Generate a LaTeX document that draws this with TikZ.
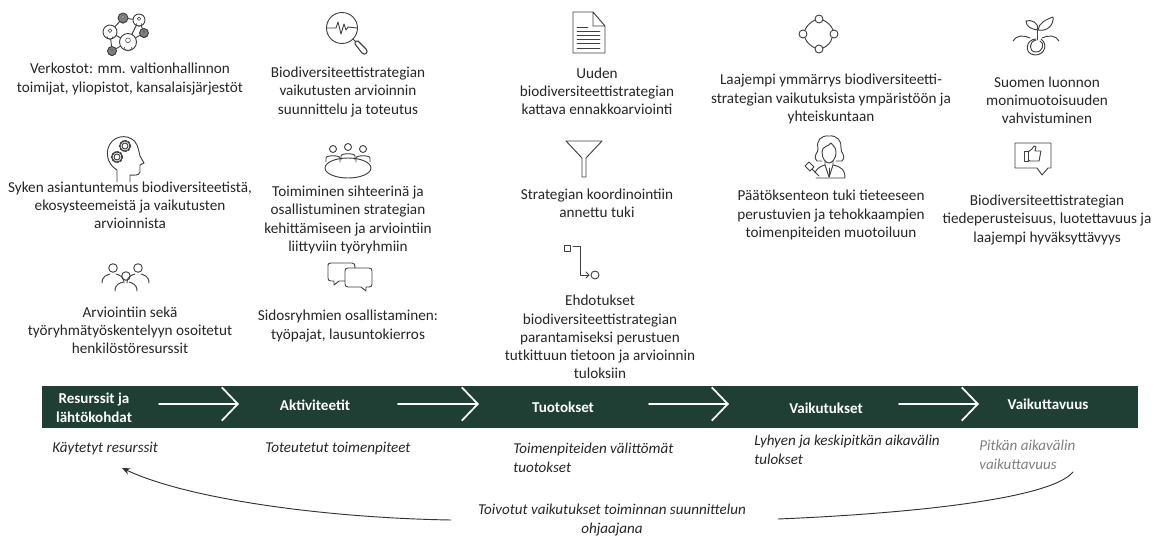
\documentclass[tikz,border=0pt]{standalone}
\usepackage{fontspec}
\setmainfont{Carlito}
\usetikzlibrary{arrows.meta}
\definecolor{bandgreen}{HTML}{1F3F35}
\definecolor{icongray}{HTML}{404040}
\definecolor{txtgray}{HTML}{262626}
\tikzset{
	txt/.style={align=center,inner sep=0pt,text=txtgray,font=\fontsize{11.4}{13.6}\selectfont},
	head/.style={align=center,inner sep=0pt,text=white,font=\fontsize{11.3}{14.5}\selectfont\bfseries},
	note/.style={align=left,inner sep=0pt,anchor=west,text=txtgray,font=\fontsize{11.3}{14.2}\selectfont\itshape},
	icon/.style={draw=icongray,line width=0.7pt,line join=round,line cap=round},
	bigarrow/.style={draw=white,line width=1.3pt,-{Straight Barb[length=12pt,width=25pt,line width=1.3pt]}},
	backline/.style={draw=black!80,line width=0.7pt}
}
\begin{document}
\begin{tikzpicture}[x=0.75pt,y=-0.75pt,line join=round,line cap=round]
	\useasboundingbox (0,0) rectangle (1156,536);
	%ikonit: verkosto
	\begin{scope}[icon]
		\draw (123,18)--(110,32) (123,18)--(139,20) (139,20)--(128,42) (110,32)--(128,42) (128,42)--(144,33) (139,20)--(144,33) (110,32)--(112,51) (128,42)--(112,51);
		\foreach \x/\y/\r/\c in {123/18/5/gray,139/20/6/white,110/32/7/white,128/42/8.5/white,144/33/4.5/gray,112/51/4.5/gray}{
			\draw[fill=\c] (\x,\y) circle (\r);
			\draw[fill=white,line width=0.4pt] (\x,\y-0.2*\r) circle (0.28*\r);
			\draw[line width=0.4pt] (\x-0.45*\r,\y+0.6*\r) arc (180:0:0.45*\r);
		}
		%suurennuslasi
		\draw (342,28) circle (15.5);
		\draw (327,28)--(336,28)--(338,22)--(341,34)--(344,24)--(346,30)--(348,27)--(357,28);
		\draw (353,39)--(356,42);
		\draw[line width=0.8pt] (355,44) -- (362,53) .. controls (365,56) and (369,52) .. (366,49) -- (358,41) .. controls (356,40) and (354,42) .. (355,44);
		%dokumentti
		\draw (573,12)--(593,12)--(605,26)--(605,53)--(573,53)--cycle (593,12)--(593,26)--(605,26);
		\foreach \y in {31,35,39,43,48}{\draw (577,\y)--(600,\y);}
		\draw (577,27)--(588,27);
		%ympyrat
		\draw (819,19) circle (4) (803,34) circle (4) (834,34) circle (4) (819,49) circle (4);
		\draw (815,20) .. controls (811,22) and (807,25) .. (805,30) (823,20) .. controls (827,22) and (831,25) .. (833,30);
		\draw (805,38) .. controls (807,43) and (811,46) .. (815,48) (832,38) .. controls (831,43) and (827,46) .. (823,48);
		%verso
		\draw (1037,30) .. controls (1032,29) and (1026,27) .. (1026,21) .. controls (1031,19) and (1040,23) .. (1037,30);
		\draw (1038,30) .. controls (1039,23) and (1045,20) .. (1053,17) .. controls (1054,24) and (1048,32) .. (1038,30);
		\draw (1037,30)--(1037,40);
		\draw (1013,41) .. controls (1016,35) and (1024,35) .. (1030,38) (1059,41) .. controls (1056,35) and (1048,35) .. (1042,38);
		\draw (1036,39) .. controls (1026,39) and (1023,54) .. (1035,55) .. controls (1045,55) and (1048,44) .. (1041,39);
		\draw (1036,40) .. controls (1029,41) and (1028,52) .. (1036,52) .. controls (1043,52) and (1045,43) .. (1040,41);
		%paa
		\draw (117,182)--(117,170) .. controls (107,164) and (105,152) .. (110,144) .. controls (116,134) and (132,134) .. (137,145) .. controls (139,150) and (139,153) .. (140,156) -- (144,163) -- (140,165) -- (140,172) .. controls (139,176) and (134,175) .. (130,175) -- (130,182);
		\draw (125,146) circle (3) (117,157) circle (3);
		\draw[densely dotted,line width=1.3pt] (125,146) circle (5.3) (117,157) circle (5.3);
		%poyta
		\draw (348,168) ellipse (23 and 10);
		\foreach \x/\y in {333/149,348/147,363/149}{
			\draw (\x,\y) circle (3.5);
			\draw (\x-7,\y+13)--(\x-7,\y+9) .. controls (\x-7,\y+6) and (\x+7,\y+6) .. (\x+7,\y+9)--(\x+7,\y+13);
		}
		%suppilo
		\draw (566,141)--(602,141)--(586,158)--(586,177)--(582,177)--(582,158)--cycle;
		%tuomari
		\draw (829,136) .. controls (821,135) and (816,141) .. (818,148) .. controls (819,153) and (812,155) .. (817,161) -- (822,161);
		\draw (829,136) .. controls (837,135) and (842,141) .. (841,148) .. controls (840,153) and (847,155) .. (842,161) -- (836,161);
		\draw (822,152) .. controls (822,146) and (828,147) .. (831,143) .. controls (833,146) and (836,147) .. (836,152) .. controls (836,160) and (831,163) .. (829,163) .. controls (826,163) and (822,159) .. (822,152);
		\draw (825,161)--(825,165)--(829,177)--(833,165)--(833,161);
		\draw (829,168)--(829,177);
		\draw (825,165) .. controls (818,167) and (816,170) .. (815,173) (833,165) .. controls (842,167) and (845,170) .. (845,178)--(816,178);
		\draw (805,166)--(809,162)--(814,167)--(810,171)--cycle (812,169)--(819,176);
		%peukku
		\draw (1015,143)--(1051,143)--(1051,168)--(1048,168)--(1042,175)--(1037,168)--(1015,168)--cycle;
		\draw (1024,151)--(1028,151)--(1028,161)--(1024,161)--cycle;
		\draw (1028,152)--(1032,149)--(1034,146)--(1036,147)--(1035,151)--(1041,151)--(1039,161)--(1030,161)--(1028,160);
		%ihmiset
		\foreach \x/\y in {113/268,138/268,126/276}{
			\draw (\x,\y) circle (4.3);
			\draw (\x-11,\y+15) .. controls (\x-11,\y+8) and (\x-6,\y+7) .. (\x-3,\y+6) (\x+11,\y+15) .. controls (\x+11,\y+8) and (\x+6,\y+7) .. (\x+3,\y+6);
		}
		%puhekuplat
		\draw (345,281)--(339,281)--(334,285)--(334,281)--(331,281) .. controls (329,281) and (328,280) .. (328,278)--(328,265) .. controls (328,264) and (329,263) .. (331,263)--(352,263) .. controls (354,263) and (355,264) .. (355,268);
		\draw (348,268)--(369,268) .. controls (371,268) and (372,269) .. (372,271)--(372,284) .. controls (372,286) and (371,287) .. (369,287)--(366,287)--(366,291)--(361,287)--(348,287) .. controls (346,287) and (345,286) .. (345,284)--(345,271) .. controls (345,269) and (346,268) .. (348,268)--cycle;
		%prosessi
		\draw (564,245) rectangle (570,251);
		\draw (573,246)--(580,246)--(580,275)--(589,275);
		\draw (586,272)--(589,275)--(586,278);
		\draw (595,275) circle (4);
	\end{scope}
	%tekstit
	\node[txt] (verkostot) at (130,79) {Verkostot: mm. valtionhallinnon\\toimijat, yliopistot, kansalaisjärjestöt};
	\node[txt] (syken) at (130,205) {Syken asiantuntemus biodiversiteetistä,\\ekosysteemeistä ja vaikutusten\\arvioinnista};
	\node[txt] (henkilosto) at (130,330) {Arviointiin sekä\\työryhmätyöskentelyyn osoitetut\\henkilöstöresurssit};
	\node[txt] (suunnittelu) at (348,92) {Biodiversiteettistrategian\\vaikutusten arvioinnin\\suunnittelu ja toteutus};
	\node[txt] (sihteeri) at (348,220) {Toimiminen sihteerinä ja\\osallistuminen strategian\\kehittämiseen ja arviointiin\\liittyviin työryhmiin};
	\node[txt] (sidos) at (348,326) {Sidosryhmien osallistaminen:\\työpajat, lausuntokierros};
	\node[txt] (uuden) at (597,91) {Uuden\\biodiversiteettistrategian\\kattava ennakkoarviointi};
	\node[txt] (koordinointi) at (597,203) {Strategian koordinointiin\\annettu tuki};
	\node[txt] (ehdotukset) at (600,337) {Ehdotukset\\biodiversiteettistrategian\\parantamiseksi perustuen\\tutkittuun tietoon ja arvioinnin\\tuloksiin};
	\node[txt] (ymmarrys) at (831,99) {Laajempi ymmärrys biodiversiteetti-\\strategian vaikutuksista ympäristöön ja\\yhteiskuntaan};
	\node[txt] (paatos) at (831,215) {Päätöksenteon tuki tieteeseen\\perustuvien ja tehokkaampien\\toimenpiteiden muotoiluun};
	\node[txt] (suomen) at (1047,100) {Suomen luonnon\\monimuotoisuuden\\vahvistuminen};
	\node[txt] (luottamus) at (1047,220) {Biodiversiteettistrategian\\tiedeperusteisuus, luotettavuus ja\\laajempi hyväksyttävyys};
	%palkki
	\fill[bandgreen] (42,386) rectangle (1138,428);
	\node[head] (resurssit) at (94,408) {Resurssit ja\\lähtökohdat};
	\node[head] (aktiviteetit) at (315,405) {Aktiviteetit};
	\node[head] (tuotokset) at (563,407) {Tuotokset};
	\node[head] (vaikutukset) at (826,408) {Vaikutukset};
	\node[head] (vaikuttavuus) at (1048,404) {Vaikuttavuus};
	\foreach \i/\a/\b in {1/159/239,2/398/479,3/649/729,4/899/979}{
		\coordinate (alku\i) at (\a,404);
		\coordinate (loppu\i) at (\b,404);
		\draw[bigarrow] (alku\i)--(loppu\i);
	}
	%alarivi
	\node[note] (kaytetyt) at (52,449) {Käytetyt resurssit};
	\node[note] (toteutetut) at (265,449) {Toteutetut toimenpiteet};
	\node[note] (valittomat) at (513,458) {Toimenpiteiden välittömät\\tuotokset};
	\node[note] (lyhyen) at (754,450) {Lyhyen ja keskipitkän aikavälin\\tulokset};
	\node[note,text=gray] (pitkan) at (979,455) {Pitkän aikavälin\\vaikuttavuus};
	\node[note,align=center,anchor=center] (toivotut) at (612,520) {Toivotut vaikutukset toiminnan suunnittelun\\ohjaajana};
	\coordinate (vasen) at (451,520);
	\coordinate (kaytto) at (122,468);
	\coordinate (oikea) at (778,519);
	\coordinate (pitka) at (1073,472);
	\draw[backline,-{Stealth[length=6pt,width=5pt]}] (vasen) .. controls (330,518) and (190,500) .. (kaytto);
	\draw[backline] (oikea) .. controls (900,514) and (1050,500) .. (pitka);
\end{tikzpicture}
\end{document}
